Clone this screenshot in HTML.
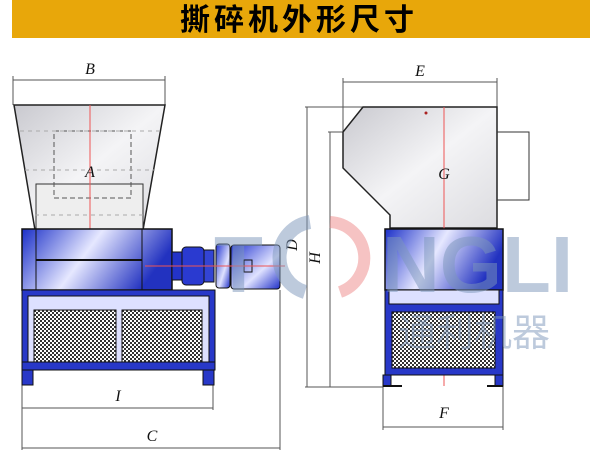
<!DOCTYPE html>
<html><head><meta charset="utf-8"><style>
html,body{margin:0;padding:0;background:#fff;width:600px;height:454px;overflow:hidden}
</style></head><body>
<svg width="600" height="454" viewBox="0 0 600 454" xmlns="http://www.w3.org/2000/svg" font-family="Liberation Serif, serif">
<defs>
<linearGradient id="gr" x1="0" y1="0" x2="1" y2="1"><stop offset="0" stop-color="#c9c9cf"/><stop offset="0.5" stop-color="#f4f4f6"/><stop offset="1" stop-color="#dcdce0"/></linearGradient>
<linearGradient id="bl" x1="0" y1="0" x2="1" y2="0.3"><stop offset="0" stop-color="#1a2fc8"/><stop offset="0.5" stop-color="#e6e8ff"/><stop offset="1" stop-color="#2232c0"/></linearGradient>
<linearGradient id="bl2" x1="0" y1="0" x2="1" y2="1"><stop offset="0" stop-color="#2436d0"/><stop offset="0.6" stop-color="#dfe2ff"/><stop offset="1" stop-color="#2030c8"/></linearGradient>
<pattern id="mesh" width="4" height="4" patternUnits="userSpaceOnUse"><rect width="4" height="4" fill="#fff"/><rect width="2" height="2" fill="#333"/><rect x="2" y="2" width="2" height="2" fill="#333"/></pattern>
</defs>
<rect x="12" y="0" width="578" height="38" fill="#E8A70A"/>
<text x="299" y="30" font-size="30" font-weight="bold" text-anchor="middle" letter-spacing="4" font-family="Liberation Sans, Noto Sans CJK SC, sans-serif">撕碎机外形尺寸</text>

<g stroke="#555" stroke-width="1" fill="none">
<line x1="13" y1="80" x2="165" y2="80"/><line x1="13" y1="76" x2="13" y2="105"/><line x1="165" y1="76" x2="165" y2="105"/>
<line x1="22" y1="408" x2="213" y2="408"/><line x1="22" y1="385" x2="22" y2="450"/><line x1="213" y1="385" x2="213" y2="410"/>
<line x1="22" y1="448" x2="280" y2="448"/><line x1="280" y1="290" x2="280" y2="450"/>
<line x1="343" y1="82" x2="497" y2="82"/><line x1="343" y1="78" x2="343" y2="132"/><line x1="497" y1="78" x2="497" y2="107"/>
<line x1="307" y1="107" x2="307" y2="387"/><line x1="305" y1="107" x2="363" y2="107"/>
<line x1="330" y1="132" x2="330" y2="387"/><line x1="328" y1="132" x2="343" y2="132"/>
<line x1="305" y1="387" x2="383" y2="387"/>
<line x1="390" y1="185" x2="497" y2="185"/>
<line x1="383" y1="386" x2="383" y2="430"/><line x1="503" y1="386" x2="503" y2="430"/><line x1="383" y1="427" x2="503" y2="427"/>
</g>

<polygon points="14,105 165,105 143,230 35,230" fill="url(#gr)" stroke="#222" stroke-width="1.5"/>
<rect x="36" y="184" width="107" height="46" fill="#eee" stroke="#333"/>
<rect x="54" y="131" width="77" height="67" fill="none" stroke="#555" stroke-dasharray="5,3"/>
<g stroke="#aaa" stroke-dasharray="4,4"><line x1="20" y1="131" x2="160" y2="131"/><line x1="25" y1="170" x2="155" y2="170"/><line x1="35" y1="215" x2="143" y2="215"/></g>
<line x1="90" y1="105" x2="90" y2="230" stroke="#e55" stroke-width="1"/>
<rect x="22" y="229" width="150" height="61" fill="url(#bl)" stroke="#111" stroke-width="1.5"/>
<line x1="36" y1="260" x2="142" y2="260" stroke="#111" stroke-width="2"/>
<line x1="36" y1="229" x2="36" y2="290" stroke="#111"/><line x1="142" y1="229" x2="142" y2="290" stroke="#111"/>
<rect x="172" y="252" width="10" height="28" fill="#2333c8" stroke="#111"/>
<rect x="182" y="247" width="22" height="38" rx="4" fill="#2a3ad0" stroke="#111"/>
<rect x="204" y="250" width="10" height="32" fill="#3344d4" stroke="#111"/>
<rect x="216" y="244" width="14" height="44" rx="3" fill="url(#bl2)" stroke="#111"/>
<rect x="231" y="245" width="49" height="44" rx="3" fill="url(#bl2)" stroke="#111"/>
<rect x="244" y="260" width="8" height="12" fill="none" stroke="#111"/>
<line x1="145" y1="266" x2="285" y2="266" stroke="#e55"/>
<rect x="22" y="290" width="193" height="80" fill="#2838c8" stroke="#111"/>
<rect x="28" y="296" width="181" height="68" fill="#dde0ff" stroke="#111"/>
<rect x="34" y="310" width="82" height="52" fill="url(#mesh)" stroke="#111"/>
<rect x="122" y="310" width="80" height="52" fill="url(#mesh)" stroke="#111"/>
<rect x="22" y="362" width="193" height="8" fill="#2838c8" stroke="#111"/>
<rect x="22" y="370" width="11" height="15" fill="#2838c8" stroke="#111"/>
<rect x="203" y="370" width="11" height="15" fill="#2838c8" stroke="#111"/>

<polygon points="363,107 497,107 497,228 390,228 390,215 343,168 343,132" fill="url(#gr)" stroke="#222" stroke-width="1.5"/>
<polyline points="497,132 529,132 529,200 497,200" fill="none" stroke="#333"/>
<line x1="444" y1="107" x2="444" y2="386" stroke="#e55"/>
<circle cx="426" cy="113" r="1.5" fill="#a22"/>
<rect x="385" y="229" width="118" height="61" fill="url(#bl)" stroke="#111" stroke-width="1.5"/>
<rect x="385" y="290" width="118" height="85" fill="#2838c8" stroke="#111"/>
<rect x="389" y="290" width="110" height="14" fill="#dde0ff" stroke="#111"/>
<rect x="392" y="312" width="103" height="56" fill="url(#mesh)" stroke="#111"/>
<rect x="383" y="375" width="8" height="11" fill="#2838c8" stroke="#111"/>
<rect x="495" y="375" width="8" height="11" fill="#2838c8" stroke="#111"/>
<line x1="383" y1="386" x2="402" y2="386" stroke="#111" stroke-width="2"/>
<line x1="487" y1="386" x2="503" y2="386" stroke="#111" stroke-width="2"/>

<g font-size="16" font-style="italic" fill="#111" text-anchor="middle">
<text x="90" y="74">B</text><text x="90" y="177">A</text>
<text x="118" y="401">I</text><text x="152" y="441">C</text>
<text x="420" y="76">E</text><text x="444" y="179">G</text>
<text x="444" y="418">F</text>
<text transform="translate(297,245) rotate(-90)">D</text>
<text transform="translate(320,258) rotate(-90)">H</text>
</g>

<g opacity="0.5">
<text x="214" y="292" font-size="80" font-weight="bold" fill="#7d97bb" font-family="Liberation Sans, sans-serif">T</text>
<path d="M310 222 A36 36 0 0 0 305 292" stroke="#7d97bb" stroke-width="14" fill="none"/>
<path d="M330 222 A36 36 0 0 1 340 292" stroke="#e88" stroke-width="12" fill="none"/>
<text x="382" y="292" font-size="80" font-weight="bold" fill="#7d97bb" font-family="Liberation Sans, sans-serif">NGLI</text>
<text x="398" y="346" font-size="38" fill="#7d97bb" font-family="Liberation Sans, Noto Sans CJK SC, sans-serif">通利机器</text>
</g>
</svg>
</body></html>
